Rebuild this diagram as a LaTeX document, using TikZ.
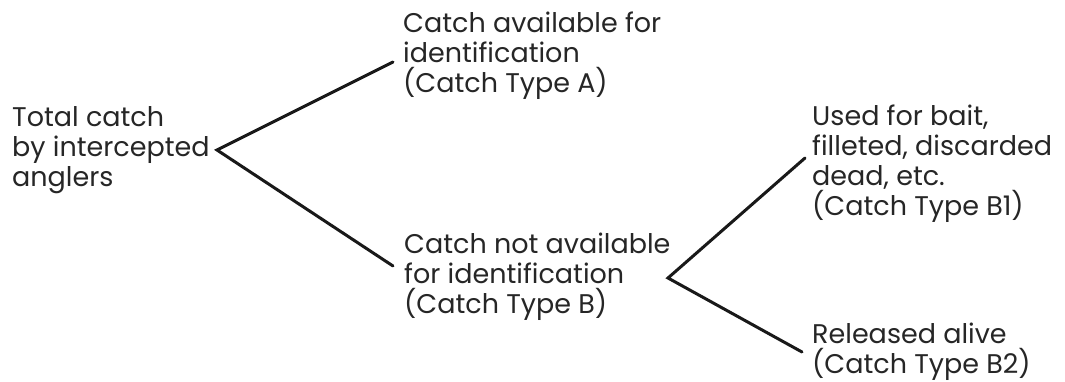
\documentclass[tikz,border=0pt]{standalone}
\usepackage{fontspec}
\setmainfont{Poppins}
\begin{document}
\begin{tikzpicture}[x=1pt,y=-1pt,
  lbl/.style={anchor=base west,inner sep=0pt,align=left,text=black!85,
    font=\fontsize{27}{30}\selectfont},
  branch/.style={draw=black!90,line width=3pt,line cap=round,line join=miter}]
\useasboundingbox (0,0) rectangle (1065,382);
\node[lbl] (root) at (12,187) {Total catch\\by intercepted\\anglers};
\node[lbl] (A) at (403,93) {Catch available for\\identification\\(Catch Type A)};
\node[lbl] (B) at (404,313) {Catch not available\\for identification\\(Catch Type B)};
\node[lbl] (B1) at (812,215) {Used for bait,\\filleted, discarded\\dead, etc.\\(Catch Type B1)};
\node[lbl] (B2) at (812,373) {Released alive\\(Catch Type B2)};
\coordinate (v0) at (217,150);
\coordinate (ea) at (393,62);
\coordinate (eb) at (393,266);
\coordinate (v1) at (668,278);
\coordinate (eb1) at (805,158);
\coordinate (eb2) at (802,352);
\draw[branch] (ea) -- (v0) -- (eb);
\draw[branch] (eb1) -- (v1) -- (eb2);
\end{tikzpicture}
\end{document}
